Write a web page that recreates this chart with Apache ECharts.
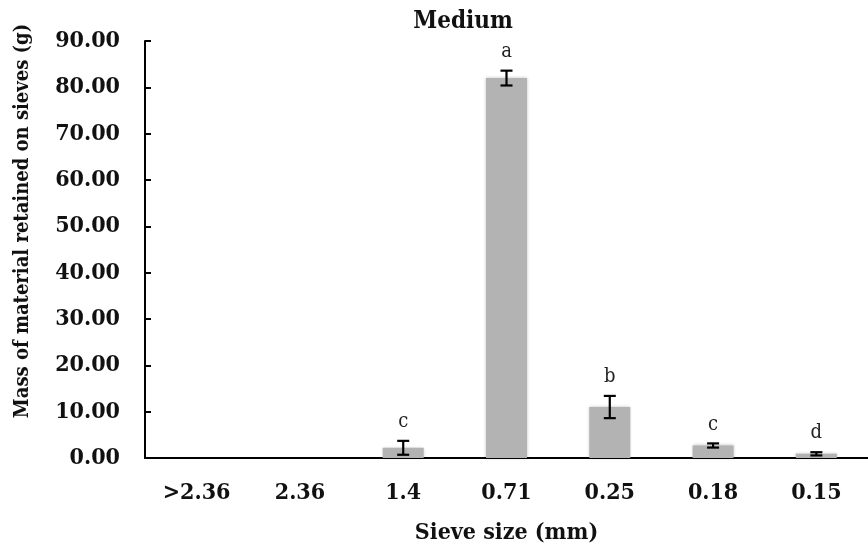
<!DOCTYPE html>
<html>
<head>
<meta charset="utf-8">
<script src="https://cdn.jsdelivr.net/npm/echarts@6/dist/echarts.min.js"></script>
<style>html,body{margin:0;padding:0;background:#fff;}#c{width:868px;height:552px;}</style>
</head>
<body>
<div id="c"></div>
<script>
const categories = ['>2.36', '2.36', '1.4', '0.71', '0.25', '0.18', '0.15'];
const means = [0, 0, 2.2, 82.0, 11.0, 2.7, 0.9];
const errors = [0, 0, 1.5, 1.6, 2.4, 0.45, 0.35];
const letters = ['', '', 'c', 'a', 'b', 'c', 'd'];
const yMax = 90;
const yInterval = 10;

const FONT = '"DejaVu Serif Condensed", "DejaVu Serif", serif';
const chart = echarts.init(document.getElementById('c'));

const errData = categories.map((c, i) => [i, means[i], errors[i]]);

chart.setOption({
  animation: false,
  backgroundColor: '#fff',
  grid: { left: 145, top: 41, bottom: 94, width: 731, containLabel: false },
  graphic: [
    { type: 'text', x: 463, y: 10, style: { text: 'Medium', font: 'bold 24px ' + FONT, fill: '#111', textAlign: 'center', textVerticalAlign: 'top' } },
    { type: 'text', x: 23, y: 221, rotation: Math.PI / 2, style: { text: 'Mass of material retained on sieves (g)', font: 'bold 20px ' + FONT, fill: '#111', textAlign: 'center', textVerticalAlign: 'middle' } }
  ],
  xAxis: {
    type: 'category',
    data: categories,
    name: 'Sieve size (mm)',
    nameLocation: 'middle',
    nameGap: 64,
    nameTextStyle: { fontFamily: FONT, fontWeight: 'bold', fontSize: 23, color: '#111' },
    axisLine: { lineStyle: { color: '#000', width: 2 } },
    axisTick: { inside: true, length: 7, interval: 0, lineStyle: { color: '#000', width: 2 } },
    axisLabel: { fontFamily: FONT, fontWeight: 'bold', fontSize: 23, color: '#111', margin: 24, interval: 0 },
    splitLine: { show: false }
  },
  yAxis: {
    type: 'value',
    min: 0, max: yMax, interval: yInterval,
    axisLine: { show: true, lineStyle: { color: '#000', width: 2 } },
    axisTick: { show: true, inside: true, length: 6, lineStyle: { color: '#000', width: 2 } },
    axisLabel: { fontFamily: FONT, fontWeight: 'bold', fontSize: 23, color: '#111', margin: 25, formatter: v => v.toFixed(2) },
    splitLine: { show: false }
  },
  series: [
    {
      type: 'bar',
      data: means,
      barWidth: 41,
      itemStyle: { color: '#b3b3b3', shadowBlur: 3, shadowColor: 'rgba(0,0,0,0.25)' }
    },
    {
      type: 'custom',
      data: errData,
      encode: { x: 0, y: 1 },
      z: 10,
      renderItem: function (params, api) {
        const i = api.value(0), m = api.value(1), e = api.value(2);
        const letter = letters[i];
        if (!(e > 0)) return null;
        const top = api.coord([i, m + e]);
        const bot = api.coord([i, m - e]);
        const hw = 6;
        const st = { stroke: '#000', lineWidth: 2.2 };
        return {
          type: 'group',
          children: [
            { type: 'line', shape: { x1: top[0], y1: top[1], x2: bot[0], y2: bot[1] }, style: st },
            { type: 'line', shape: { x1: top[0] - hw, y1: top[1], x2: top[0] + hw, y2: top[1] }, style: st },
            { type: 'line', shape: { x1: bot[0] - hw, y1: bot[1], x2: bot[0] + hw, y2: bot[1] }, style: st },
            { type: 'text', x: top[0], y: top[1] - 9, style: { text: letter, font: '20px ' + FONT, fill: '#222', textAlign: 'center', textVerticalAlign: 'bottom' } }
          ]
        };
      }
    }
  ]
});
</script>
</body>
</html>
